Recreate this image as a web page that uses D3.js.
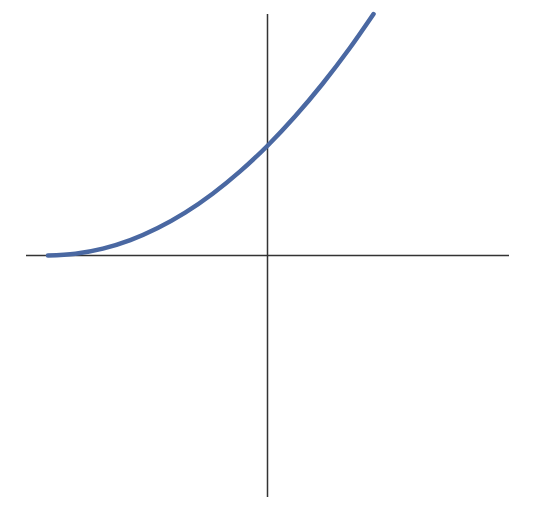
<!DOCTYPE html>
<html><head><meta charset="utf-8">
<script src="https://cdn.jsdelivr.net/npm/d3@7"></script>
<style>body{margin:0;background:#fff}</style>
</head><body>
<svg id="c" width="540" height="508"></svg>
<script>
const xValues = [-2, -1.75, -1.5, -1.25, -1, -0.75, -0.5, -0.25, 0, 0.25, 0.5, 0.75, 0.966];
const yValues = [0, 0.016, 0.0625, 0.14, 0.25, 0.39, 0.5625, 0.766, 1.0, 1.266, 1.5625, 1.89, 2.2];
const xDomain = [-2.2, 2.2];
const yDomain = [-2.2, 2.2];

const svg = d3.select("#c");
const x = d3.scaleLinear().domain(xDomain).range([26, 509]);
const y = d3.scaleLinear().domain(yDomain).range([497, 14]);

svg.append("line").attr("x1", x(xDomain[0])).attr("x2", x(xDomain[1]))
  .attr("y1", y(0)).attr("y2", y(0)).attr("stroke", "#333").attr("stroke-width", 1.5);
svg.append("line").attr("x1", x(0)).attr("x2", x(0))
  .attr("y1", y(yDomain[0])).attr("y2", y(yDomain[1])).attr("stroke", "#333").attr("stroke-width", 1.5);

const pts = xValues.map((v, i) => [v, yValues[i]]);
const line = d3.line().x(d => x(d[0])).y(d => y(d[1])).curve(d3.curveMonotoneX);
svg.append("path").attr("d", line(pts)).attr("fill", "none")
  .attr("stroke", "#4a68a2").attr("stroke-width", 4.5).attr("stroke-linecap", "round");
</script>
</body></html>
